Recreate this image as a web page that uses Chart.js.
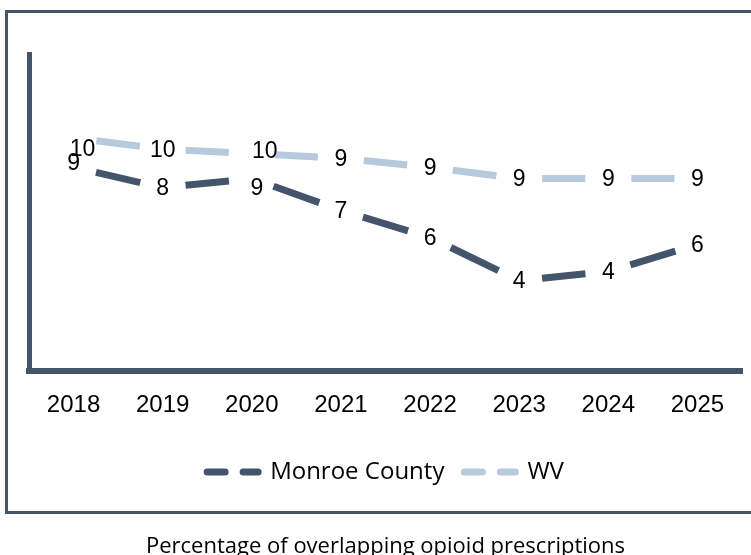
<!DOCTYPE html>
<html>
<head>
<meta charset="utf-8">
<script src="https://cdn.jsdelivr.net/npm/chart.js@4"></script>
<style>
  html, body { margin: 0; padding: 0; background: #ffffff; }
  #wrap { width: 751px; height: 555px; }
</style>
</head>
<body>
<div id="wrap"><canvas id="c" width="751" height="555"></canvas></div>
<script>
const years = ['2018', '2019', '2020', '2021', '2022', '2023', '2024', '2025'];
const monroeCounty = [9.0, 8.1, 8.5, 7.1, 5.9, 4.0, 4.4, 5.6];
const wv = [10.3, 9.8, 9.6, 9.4, 9.0, 8.5, 8.5, 8.5];
const seriesNames = ['Monroe County', 'WV'];
const captionText = 'Percentage of overlapping opioid prescriptions';

const DARK = '#44546A';
const LIGHT = '#B7C9DC';
const GAP = 23;

// gap around every point, like the reference's long-dash segments
function segDash(ctx) {
  const dx = ctx.p1.x - ctx.p0.x, dy = ctx.p1.y - ctx.p0.y;
  const L = Math.sqrt(dx * dx + dy * dy);
  const d = Math.max(L - 2 * GAP, 0);
  return [0, GAP, d, GAP];
}

// small label nudges for the crowded labels (pixels)
const labelNudge = {
  0: { 0: [0, -5], 2: [5, 9] },
  1: { 0: [9, 11], 2: [13, -3] }
};

const frame = {
  id: 'frame',
  beforeDraw(chart) {
    const c = chart.ctx;
    c.save();
    c.strokeStyle = DARK;
    c.lineWidth = 3;
    c.beginPath();
    c.moveTo(760, 11.5);
    c.lineTo(6.5, 11.5);
    c.lineTo(6.5, 512.5);
    c.lineTo(760, 512.5);
    c.stroke();
    c.restore();
  }
};

const valueLabels = {
  id: 'valueLabels',
  afterDatasetsDraw(chart) {
    const c = chart.ctx;
    c.save();
    c.font = '23px "Liberation Sans", Arial, sans-serif';
    c.fillStyle = '#000000';
    c.textAlign = 'center';
    c.textBaseline = 'middle';
    chart.data.datasets.forEach((ds, i) => {
      const meta = chart.getDatasetMeta(i);
      meta.data.forEach((pt, j) => {
        const n = (labelNudge[i] && labelNudge[i][j]) || [0, 0];
        c.fillText(String(Math.round(ds.data[j])), pt.x + n[0], pt.y + n[1] + 1);
      });
    });
    c.restore();
  }
};

new Chart(document.getElementById('c'), {
  type: 'line',
  data: {
    labels: years,
    datasets: [
      {
        label: seriesNames[0],
        data: monroeCounty,
        borderColor: DARK,
        backgroundColor: DARK,
        borderWidth: 7,
        borderCapStyle: 'butt',
        pointRadius: 0,
        tension: 0,
        segment: { borderDash: segDash }
      },
      {
        label: seriesNames[1],
        data: wv,
        borderColor: LIGHT,
        backgroundColor: LIGHT,
        borderWidth: 7,
        borderCapStyle: 'butt',
        pointRadius: 0,
        tension: 0,
        segment: { borderDash: segDash }
      }
    ]
  },
  options: {
    responsive: false,
    animation: false,
    devicePixelRatio: 1,
    layout: { padding: { left: 29, right: 9, top: 54, bottom: 0 } },
    scales: {
      x: {
        offset: true,
        grid: { display: false, drawTicks: false },
        border: { display: true, color: DARK, width: 6 },
        ticks: {
          color: '#000000',
          font: { family: '"Liberation Sans", Arial, sans-serif', size: 24 },
          padding: 20,
          maxRotation: 0
        }
      },
      y: {
        min: 0,
        max: 14,
        grid: { display: false, drawTicks: false },
        border: { display: true, color: DARK, width: 5 },
        ticks: { display: false },
        afterFit(s) { s.width = 0; }
      }
    },
    plugins: {
      legend: {
        position: 'bottom',
        labels: {
          usePointStyle: true,
          pointStyle: 'line',
          pointStyleWidth: 51,
          boxHeight: 7,
          color: '#000000',
          font: { family: '"Open Sans", "Noto Sans", sans-serif', size: 24 },
          padding: 20,
          generateLabels(chart) {
            return chart.data.datasets.map((ds, i) => ({
              text: ds.label,
              fillStyle: ds.borderColor,
              strokeStyle: ds.borderColor,
              lineWidth: 7,
              lineDash: [18, 18],
              lineCap: 'round',
              pointStyle: 'line',
              hidden: false,
              datasetIndex: i,
              fontColor: '#000000'
            }));
          }
        }
      },
      title: {
        display: true,
        position: 'bottom',
        text: captionText,
        color: '#000000',
        font: { family: '"Open Sans", "Noto Sans", sans-serif', size: 22, weight: 'normal', lineHeight: 1 },
        padding: { top: 42, bottom: -3 }
      },
      tooltip: { enabled: false }
    }
  },
  plugins: [frame, valueLabels]
});
</script>
</body>
</html>
